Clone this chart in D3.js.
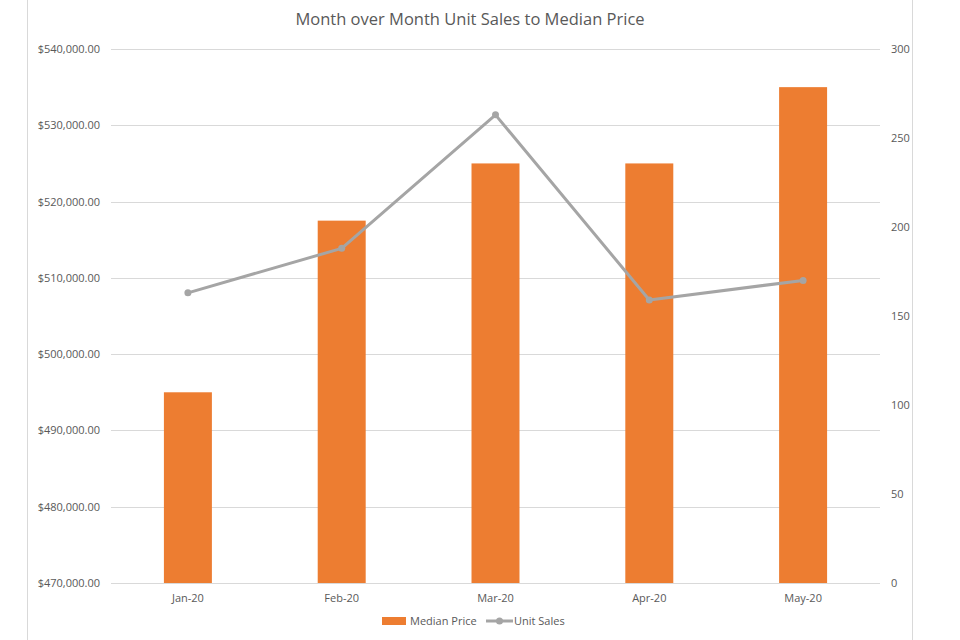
<!DOCTYPE html>
<html>
<head>
<meta charset="utf-8">
<script src="https://cdn.jsdelivr.net/npm/d3@7"></script>
<style>
  body { margin: 0; background: #fff; }
  text { font-family: "Open Sans", "Noto Sans", sans-serif; fill: #595959; }
</style>
</head>
<body>
<div id="chart"></div>
<script>
var months = ['Jan-20', 'Feb-20', 'Mar-20', 'Apr-20', 'May-20'];
var medianPrice = [495000, 517500, 525000, 525000, 535000];
var unitSales = [163, 188, 263, 159, 170];
var priceTicks = [470000, 480000, 490000, 500000, 510000, 520000, 530000, 540000];
var salesTicks = [0, 50, 100, 150, 200, 250, 300];

var width = 960,
    height = 640,
    plotLeft = 111,
    plotRight = 880,
    plotTop = 49,
    plotBottom = 583,
    orange = '#ED7D31',
    grey = '#A5A5A5';

var svg = d3.select('#chart')
  .append('svg')
  .attr('width', width)
  .attr('height', height);

// frame edges
svg.append('line').attr('x1', 27.5).attr('x2', 27.5).attr('y1', 0).attr('y2', height)
  .attr('stroke', '#d9d9d9');
svg.append('line').attr('x1', 912.5).attr('x2', 912.5).attr('y1', 0).attr('y2', height)
  .attr('stroke', '#d9d9d9');

var x = d3.scaleBand()
  .domain(months)
  .range([plotLeft, plotRight])
  .paddingInner(0.688)
  .paddingOuter(0.344);

var yPrice = d3.scaleLinear().domain([470000, 540000]).range([plotBottom, plotTop]);
var ySales = d3.scaleLinear().domain([0, 300]).range([plotBottom, plotTop]);

var fmt = d3.format('$,.2f');

// gridlines
svg.append('g').selectAll('line')
  .data(priceTicks)
  .enter()
  .append('line')
  .attr('x1', plotLeft).attr('x2', plotRight)
  .attr('y1', function(d) { return Math.round(yPrice(d)) + 0.5; })
  .attr('y2', function(d) { return Math.round(yPrice(d)) + 0.5; })
  .attr('stroke', '#d9d9d9');

// left axis
var leftAxis = svg.append('g')
  .attr('transform', 'translate(' + (plotLeft - 11) + ',0)')
  .call(d3.axisLeft(yPrice).tickValues(priceTicks).tickFormat(fmt).tickSize(0).tickPadding(0));
leftAxis.select('.domain').remove();
leftAxis.selectAll('text').attr('font-size', 11);
leftAxis.attr('font-family', null);

// right axis
var rightAxis = svg.append('g')
  .attr('transform', 'translate(' + (plotRight + 11) + ',0)')
  .call(d3.axisRight(ySales).tickValues(salesTicks).tickSize(0).tickPadding(0));
rightAxis.select('.domain').remove();
rightAxis.selectAll('text').attr('font-size', 11);
rightAxis.attr('font-family', null);

// bottom axis
var bottomAxis = svg.append('g')
  .attr('transform', 'translate(0,' + (plotBottom + 11) + ')')
  .call(d3.axisBottom(x).tickSize(0).tickPadding(0));
bottomAxis.select('.domain').remove();
bottomAxis.selectAll('text').attr('font-size', 11);
bottomAxis.attr('font-family', null);

// bars
svg.append('g').selectAll('rect')
  .data(medianPrice)
  .enter()
  .append('rect')
  .attr('x', function(d, i) { return x(months[i]); })
  .attr('width', x.bandwidth())
  .attr('y', function(d) { return yPrice(d); })
  .attr('height', function(d) { return plotBottom - yPrice(d); })
  .attr('fill', orange);

// line
var line = d3.line()
  .x(function(d, i) { return x(months[i]) + x.bandwidth() / 2; })
  .y(function(d) { return ySales(d); });

svg.append('path')
  .datum(unitSales)
  .attr('d', line)
  .attr('fill', 'none')
  .attr('stroke', grey)
  .attr('stroke-width', 3)
  .attr('stroke-linejoin', 'round');

svg.append('g').selectAll('circle')
  .data(unitSales)
  .enter()
  .append('circle')
  .attr('cx', function(d, i) { return x(months[i]) + x.bandwidth() / 2; })
  .attr('cy', function(d) { return ySales(d); })
  .attr('r', 3.5)
  .attr('fill', grey);

// title
svg.append('text')
  .attr('x', 470)
  .attr('y', 25)
  .attr('text-anchor', 'middle')
  .attr('font-size', 16.5)
  .text('Month over Month Unit Sales to Median Price');

// legend
var legend = svg.append('g').attr('transform', 'translate(0,621)');
legend.append('rect').attr('x', 382).attr('y', -4).attr('width', 24).attr('height', 8).attr('fill', orange);
legend.append('text').attr('x', 410).attr('y', 4).attr('font-size', 11).text('Median Price');
legend.append('line').attr('x1', 486).attr('x2', 513).attr('y1', 0).attr('y2', 0)
  .attr('stroke', grey).attr('stroke-width', 3);
legend.append('circle').attr('cx', 499.5).attr('cy', 0).attr('r', 3.5).attr('fill', grey);
legend.append('text').attr('x', 514).attr('y', 4).attr('font-size', 11).text('Unit Sales');
</script>
</body>
</html>
